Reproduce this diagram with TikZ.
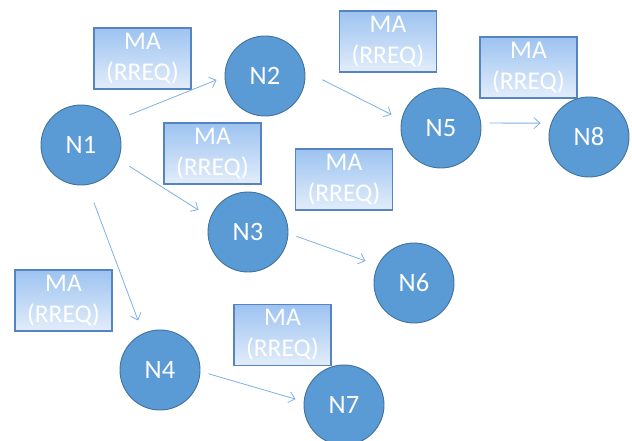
\documentclass[tikz,border=0pt]{standalone}
\usepackage{fontspec}
\setmainfont{Carlito}
\usetikzlibrary{arrows.meta}
\definecolor{nodeblue}{HTML}{5B9BD5}
\definecolor{nodeedge}{HTML}{41719C}
\definecolor{boxtop}{HTML}{9DC3F1}
\definecolor{boxbot}{HTML}{E2EDFA}
\definecolor{boxedge}{HTML}{5584C0}
\definecolor{arrowblue}{HTML}{7DB1E3}
\tikzset{
  netnode/.style={circle, minimum size=80pt, inner sep=0pt, fill=nodeblue, draw=nodeedge, line width=0.9pt, text=white, font=\fontsize{26.5}{30}\selectfont},
  msgbox/.style={rectangle, minimum width=97pt, minimum height=61pt, inner sep=0pt, top color=boxtop, bottom color=boxbot, draw=boxedge, line width=1.2pt, text=white, align=center, font=\fontsize{25.5}{31}\selectfont},
  link/.style={draw=arrowblue, line width=0.8pt, -{Straight Barb[length=6pt,width=11pt]}}
}
\begin{document}
\begin{tikzpicture}[x=1pt,y=-1pt]
\useasboundingbox (0,0) rectangle (632,441);
% message labels
\node[msgbox] (l1) at (142.5,58.5) {MA\\(RREQ)};
\node[msgbox] (l2) at (212.5,153.5) {MA\\(RREQ)};
\node[msgbox] (l3) at (388,41.5) {MA\\(RREQ)};
\node[msgbox] (l4) at (528.5,67.5) {MA\\(RREQ)};
\node[msgbox] (l5) at (344,179.5) {MA\\(RREQ)};
\node[msgbox] (l6) at (63.5,300.5) {MA\\(RREQ)};
\node[msgbox] (l7) at (282.5,335) {MA\\(RREQ)};
% network nodes
\node[netnode] (n1) at (81,145) {N1};
\node[netnode] (n2) at (265,76) {N2};
\node[netnode] (n3) at (248,232) {N3};
\node[netnode] (n4) at (160,370) {N4};
\node[netnode] (n5) at (441,128) {N5};
\node[netnode] (n6) at (414,283) {N6};
\node[netnode] (n7) at (344,405) {N7};
\node[netnode] (n8) at (589,137) {N8};
% connectors
\draw[link, shorten <=17pt, shorten >=8.6pt] (n1.36) -- (n2.181);
\draw[link, shorten <=19.3pt, shorten >=11pt] (n2.7) -- (n5.168);
\draw[link, shorten <=8.3pt, shorten >=10.5pt] (n5.7) -- (n8.160);
\draw[link, shorten <=12.6pt, shorten >=13.9pt] (n1.-21) -- (n3.159);
\draw[link, shorten <=8.5pt, shorten >=12.9pt] (n3.-2) -- (n6.154);
\draw[link, shorten <=18.7pt, shorten >=13.75pt] (n1.-81) -- (n4.115);
\draw[link, shorten <=8.35pt, shorten >=8.5pt] (n4.-2) -- (n7.175);
\end{tikzpicture}
\end{document}
